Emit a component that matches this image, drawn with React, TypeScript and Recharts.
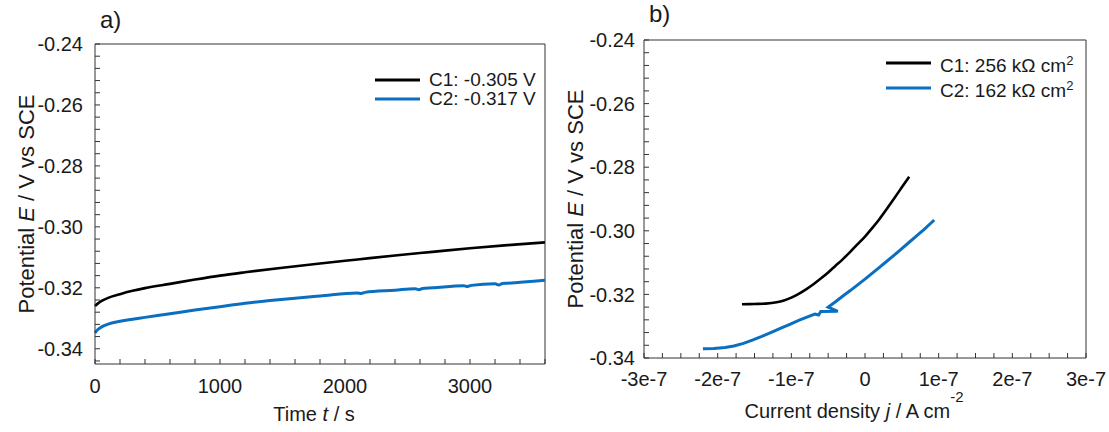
import React from "react";
import { Legend, Line, LineChart, ReferenceLine, XAxis, YAxis } from "recharts";

// a) open circuit potential vs time
const ocpTimeC1 = [0, 25, 50, 100, 200, 300, 400, 600, 800, 1000, 1200, 1500, 1800, 2100, 2400, 2700, 3000, 3300, 3600];
const ocpC1 = [-0.326, -0.3251, -0.3244, -0.3234, -0.3221, -0.321, -0.3201, -0.3187, -0.3173, -0.316, -0.3149, -0.3134, -0.312, -0.3107, -0.3094, -0.3082, -0.307, -0.306, -0.3051];
const ocpTimeC2 = [0, 25, 50, 100, 200, 300, 400, 600, 800, 1000, 1200, 1400, 1600, 1800, 2100, 2130, 2160, 2400, 2560, 2590, 2620, 2700, 2950, 2980, 3010, 3200, 3230, 3260, 3300, 3600];
const ocpC2 = [-0.3348, -0.3336, -0.3329, -0.332, -0.331, -0.3303, -0.3297, -0.3285, -0.3273, -0.3262, -0.3251, -0.3242, -0.3234, -0.3227, -0.3217, -0.3219, -0.3215, -0.3208, -0.3203, -0.3206, -0.3202, -0.32, -0.3193, -0.3196, -0.3192, -0.3187, -0.3191, -0.3186, -0.3185, -0.3175];

// b) linear polarisation, current density in A cm-2
const lprCurrentC1 = [-1.67e-7, -1.5e-7, -1.35e-7, -1.2e-7, -1.1e-7, -1.0e-7, -0.9e-7, -0.8e-7, -0.7e-7, -0.6e-7, -0.5e-7, -0.4e-7, -0.3e-7, -0.2e-7, -0.1e-7, 0, 0.1e-7, 0.2e-7, 0.3e-7, 0.4e-7, 0.5e-7, 0.6e-7];
const lprPotentialC1 = [-0.3231, -0.323, -0.3229, -0.3225, -0.3219, -0.321, -0.3198, -0.3184, -0.3168, -0.315, -0.3131, -0.311, -0.3089, -0.3066, -0.3042, -0.3018, -0.2991, -0.2962, -0.293, -0.2897, -0.2863, -0.283];
const lprCurrentC2 = [-2.2e-7, -2.05e-7, -1.9e-7, -1.78e-7, -1.65e-7, -1.52e-7, -1.4e-7, -1.28e-7, -1.15e-7, -1.02e-7, -0.9e-7, -0.78e-7, -0.68e-7, -0.63e-7, -0.6e-7, -0.37e-7, -0.5e-7, -0.4e-7, -0.3e-7, -0.2e-7, -0.1e-7, 0, 0.1e-7, 0.2e-7, 0.3e-7, 0.4e-7, 0.5e-7, 0.6e-7, 0.7e-7, 0.8e-7, 0.94e-7];
const lprPotentialC2 = [-0.3371, -0.337, -0.3367, -0.3362, -0.3354, -0.3343, -0.3332, -0.332, -0.3307, -0.3294, -0.3282, -0.3271, -0.3262, -0.3265, -0.3254, -0.3253, -0.324, -0.3223, -0.3205, -0.3188, -0.317, -0.3152, -0.3133, -0.3114, -0.3095, -0.3076, -0.3056, -0.3036, -0.3016, -0.2996, -0.2966];

const timeTicks = [0, 1000, 2000, 3000];
const potentialTicks = [-0.34, -0.32, -0.3, -0.28, -0.26, -0.24];
const currentTicks = [-3e-7, -2e-7, -1e-7, 0, 1e-7, 2e-7, 3e-7];
const currentLabels = ["-3e-7", "-2e-7", "-1e-7", "0", "1e-7", "2e-7", "3e-7"];

const ocpLegend = ["C1: -0.305 V", "C2: -0.317 V"];
const lprLegend = ["C1: 256 kΩ cm", "C2: 162 kΩ cm"];
const colors = ["#000000", "#0a6fc0"];

const FONT = "'Liberation Sans', Arial, Helvetica, sans-serif";
const AXIS = "#333";
const TEXT = "#1a1a1a";

const minorTicks = (start: number, end: number, step: number) => {
  const n = Math.round((end - start) / step);
  const out: number[] = [];
  for (let i = 0; i <= n; i++) out.push(+(start + i * step).toPrecision(10));
  return out;
};

const toRows = (xs: number[], ys: number[]) => xs.map((x, i) => ({ x, y: ys[i] }));

const findMajor = (v: number, majors: number[], tol: number) =>
  majors.findIndex((m) => Math.abs(m - v) < tol);

const xTick = (majors: number[], labels: string[], tol: number) => (props: any) => {
  const { x, y, payload } = props;
  const i = findMajor(payload.value, majors, tol);
  if (i < 0) return <g />;
  return (
    <text x={x} y={y} dy="0.72em" textAnchor="middle" fontSize={20} fill={TEXT} fontFamily={FONT}>
      {labels[i]}
    </text>
  );
};

const yTick = (props: any) => {
  const { x, y, payload } = props;
  const i = findMajor(payload.value, potentialTicks, 1e-6);
  if (i < 0) return <g />;
  return (
    <text x={x} y={y} dy="0.36em" textAnchor="end" fontSize={20} fill={TEXT} fontFamily={FONT}>
      {potentialTicks[i].toFixed(2)}
    </text>
  );
};

// rotated title, centred on the plot height
const yTitle = (dx: number) => (props: any) => {
  const vb = props.viewBox || { x: 0, y: 0, height: 0 };
  const cx = vb.x + dx;
  const cy = vb.y + vb.height / 2;
  return (
    <text
      transform={`translate(${cx},${cy}) rotate(-90)`}
      textAnchor="middle"
      fontSize={22}
      fill={TEXT}
      fontFamily={FONT}
    >
      Potential <tspan fontStyle="italic">E</tspan> / V vs SCE
    </text>
  );
};

const LegendBox = ({ labels, rowHeight, sup }: { labels: string[]; rowHeight: number; sup: boolean }) => (
  <div style={{ fontFamily: FONT, fontSize: 19, color: TEXT }}>
    {labels.map((l, i) => (
      <div key={l} style={{ display: "flex", alignItems: "center", height: rowHeight, lineHeight: `${rowHeight}px`, whiteSpace: "nowrap" }}>
        <svg width={45} height={6}>
          <line x1={0} y1={3} x2={45} y2={3} stroke={colors[i]} strokeWidth={3} />
        </svg>
        <span style={{ marginLeft: 9 }}>
          {l}
          {sup && <sup style={{ fontSize: 13, verticalAlign: "7px" }}>2</sup>}
        </span>
      </div>
    ))}
  </div>
);

function OcpChart() {
  return (
    <LineChart width={560} height={432} margin={{ top: 44, right: 15, bottom: 8, left: 0 }}>
      <XAxis
        type="number"
        dataKey="x"
        domain={[0, 3600]}
        ticks={minorTicks(0, 3600, 200)}
        interval={0}
        height={60}
        tickSize={-5}
        tickMargin={20}
        axisLine={{ stroke: AXIS }}
        tickLine={{ stroke: AXIS }}
        tick={xTick(timeTicks, timeTicks.map(String), 1e-3)}
        label={(p: any) => (
          <text x={p.viewBox.x + 219} y={p.viewBox.y + 57} textAnchor="middle" fontSize={20} fill={TEXT} fontFamily={FONT}>
            Time <tspan fontStyle="italic">t</tspan> / s
          </text>
        )}
      />
      <YAxis
        type="number"
        domain={[-0.345, -0.24]}
        ticks={minorTicks(-0.344, -0.24, 0.004)}
        interval={0}
        width={95}
        tickSize={-5}
        tickMargin={17}
        axisLine={{ stroke: AXIS }}
        tickLine={{ stroke: AXIS }}
        tick={yTick}
        label={yTitle(34)}
      />
      <ReferenceLine y={-0.24} stroke={AXIS} />
      <ReferenceLine x={3600} stroke={AXIS} />
      <Line data={toRows(ocpTimeC1, ocpC1)} dataKey="y" type="monotone" stroke={colors[0]} strokeWidth={2.6} dot={false} isAnimationActive={false} />
      <Line data={toRows(ocpTimeC2, ocpC2)} dataKey="y" type="monotone" stroke={colors[1]} strokeWidth={3} dot={false} isAnimationActive={false} />
      <Legend
        layout="horizontal"
        verticalAlign="middle"
        align="center"
        wrapperStyle={{ left: 375, top: 70, width: 180 }}
        content={() => <LegendBox labels={ocpLegend} rowHeight={19} sup={false} />}
      />
    </LineChart>
  );
}

function LprChart() {
  return (
    <LineChart width={549} height={432} margin={{ top: 40, right: 23, bottom: 14, left: 0 }}>
      <XAxis
        type="number"
        dataKey="x"
        domain={[-3e-7, 3e-7]}
        ticks={minorTicks(-3e-7, 3e-7, 0.25e-7)}
        interval={0}
        height={60}
        tickSize={-5}
        tickMargin={19}
        axisLine={{ stroke: AXIS }}
        tickLine={{ stroke: AXIS }}
        tick={xTick(currentTicks, currentLabels, 1e-10)}
        label={(p: any) => (
          <text x={p.viewBox.x + 210} y={p.viewBox.y + 60} textAnchor="middle" fontSize={20} fill={TEXT} fontFamily={FONT}>
            Current density <tspan fontStyle="italic">j</tspan> / A cm
            <tspan dy={-16} fontSize={15}>-2</tspan>
          </text>
        )}
      />
      <YAxis
        type="number"
        domain={[-0.34, -0.24]}
        ticks={minorTicks(-0.34, -0.24, 0.004)}
        interval={0}
        width={84}
        tickSize={-5}
        tickMargin={14}
        axisLine={{ stroke: AXIS }}
        tickLine={{ stroke: AXIS }}
        tick={yTick}
        label={yTitle(23)}
      />
      <ReferenceLine y={-0.24} stroke={AXIS} />
      <ReferenceLine x={3e-7} stroke={AXIS} />
      <Line data={toRows(lprCurrentC1, lprPotentialC1)} dataKey="y" type="monotone" stroke={colors[0]} strokeWidth={2.6} dot={false} isAnimationActive={false} />
      <Line data={toRows(lprCurrentC2, lprPotentialC2)} dataKey="y" type="linear" stroke={colors[1]} strokeWidth={3} dot={false} isAnimationActive={false} />
      <Legend
        layout="horizontal"
        verticalAlign="middle"
        align="center"
        wrapperStyle={{ left: 326, top: 50, width: 215 }}
        content={() => <LegendBox labels={lprLegend} rowHeight={25} sup={true} />}
      />
    </LineChart>
  );
}

export default function App() {
  return (
    <div style={{ position: "absolute", left: 0, top: 0, width: 1109, height: 432, background: "#fff", fontFamily: FONT }}>
      <div style={{ position: "absolute", left: 0, top: 0 }}>
        <OcpChart />
      </div>
      <div style={{ position: "absolute", left: 560, top: 0 }}>
        <LprChart />
      </div>
      <div style={{ position: "absolute", left: 100, top: 6, fontSize: 24, lineHeight: "28px", color: TEXT }}>a)</div>
      <div style={{ position: "absolute", left: 649, top: 0, fontSize: 24, lineHeight: "28px", color: TEXT }}>b)</div>
    </div>
  );
}
